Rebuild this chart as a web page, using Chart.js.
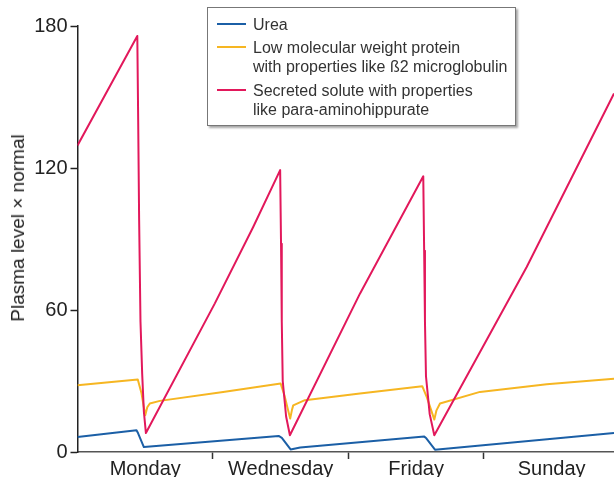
<!DOCTYPE html>
<html>
<head>
<meta charset="utf-8">
<script src="https://cdn.jsdelivr.net/npm/chart.js@4/dist/chart.umd.min.js"></script>
<style>
  body { margin: 0; background: #fff; }
  #wrap { position: relative; width: 614px; height: 477px; font-family: "Liberation Sans", Arial, sans-serif; }
  #ytitle {
    position: absolute; left: 18px; top: 228px;
    transform: translate(-50%, -50%) rotate(-90deg);
    white-space: nowrap; font-size: 19px; color: #222;
  }
  #legend {
    position: absolute; left: 207px; top: 7px; width: 307px; height: 117px;
    border: 1px solid #777; background: #fff;
    box-shadow: 2px 2px 2px rgba(0,0,0,0.35);
    font-size: 16px; color: #333; line-height: 19px;
  }
  .item { position: absolute; left: 45px; }
  .swatch { position: absolute; left: -36px; top: 8px; width: 29px; height: 2px; }
</style>
</head>
<body>
<div id="wrap">
  <canvas id="chart" width="614" height="477"></canvas>
  <div id="ytitle">Plasma level × normal</div>
  <div id="legend"></div>
</div>
<script>
// x is in days along the axis, y is plasma level × normal
const dayLabels = { 1: "Monday", 3: "Wednesday", 5: "Friday", 7: "Sunday" };

const ureaDays  = [0, 0.871, 0.895, 0.98, 2.97, 3.017, 3.146, 3.288, 5.12, 5.15, 5.278, 7.921];
const ureaLevel = [6.3, 9.2, 7.9, 2.1, 6.8, 6.0, 1.1, 1.9, 6.5, 5.8, 1.0, 8.0];

const b2mDays  = [0, 0.89, 0.945, 1.0, 1.03, 1.068, 1.216, 2.15, 3.0, 3.055, 3.14, 3.165, 3.185, 3.357, 4.17,
                  5.09, 5.16, 5.268, 5.3, 5.352, 5.942, 6.928, 7.921];
const b2mLevel = [28.2, 30.6, 24.8, 15.5, 18.9, 20.5, 21.6, 25.4, 28.9, 24.0, 14.1, 17.6, 19.7, 21.9, 24.7,
                  27.8, 23.0, 13.7, 17.6, 20.5, 25.4, 28.6, 31.0];

const pahDays  = [0, 0.883, 0.896, 0.91, 0.93, 0.955, 0.98, 1.01, 2.028, 2.594, 2.992, 3.005, 3.016, 3.03, 3.08, 3.136,
                  4.17, 5.105, 5.118, 5.13, 5.145, 5.2, 5.268, 6.632, 7.921];
const pahLevel = [129.5, 175.8, 140, 98, 55, 33, 17, 8, 62.8, 95.1, 119.1, 88, 55, 30, 15, 7.1,
                  66.9, 116.5, 85, 55, 32, 16, 7.1, 78.2, 151.5];

const seriesNames = [
  ["Urea"],
  ["Low molecular weight protein", "with properties like ß2 microglobulin"],
  ["Secreted solute with properties", "like para-aminohippurate"]
];
const seriesColors = ["#1b5fa6", "#f6b622", "#e2185b"];

const toPoints = (xs, ys) => xs.map((x, i) => ({ x, y: ys[i] }));

// legend box (html so the two-line labels wrap like the original)
const legendTops = [7, 30, 73];
const legend = document.getElementById("legend");
seriesNames.forEach((lines, i) => {
  const el = document.createElement("div");
  el.className = "item";
  el.style.top = legendTops[i] + "px";
  el.innerHTML = `<span class="swatch" style="background:${seriesColors[i]}"></span>` + lines.join("<br>");
  legend.appendChild(el);
});

Chart.defaults.font.family = '"Liberation Sans", Arial, sans-serif';
Chart.defaults.color = "#222";

const line = (data, i, order) => ({
  data,
  borderColor: seriesColors[i],
  backgroundColor: "transparent",
  borderWidth: 2,
  pointRadius: 0,
  tension: 0,
  borderJoinStyle: "round",
  order,
});

new Chart(document.getElementById("chart"), {
  type: "line",
  data: {
    datasets: [
      line(toPoints(pahDays, pahLevel), 2, 0),
      line(toPoints(b2mDays, b2mLevel), 1, 1),
      line(toPoints(ureaDays, ureaLevel), 0, 2),
    ],
  },
  options: {
    responsive: false,
    animation: false,
    devicePixelRatio: 1,
    layout: { padding: { top: 26, right: 0, left: 0, bottom: 0 } },
    plugins: { legend: { display: false }, tooltip: { enabled: false } },
    scales: {
      x: {
        type: "linear",
        min: 0,
        max: 7.921,
        afterBuildTicks: (s) => { s.ticks = [0, 1, 2, 3, 4, 5, 6, 7].map((v) => ({ value: v })); },
        afterFit: (s) => { s.height = 25; },
        ticks: {
          autoSkip: false,
          maxRotation: 0,
          padding: -2,
          font: { size: 20 },
          color: "#222",
          callback: (v) => dayLabels[v] || "",
        },
        grid: {
          drawOnChartArea: false,
          tickLength: 7,
          tickWidth: 1.5,
          tickColor: (ctx) => (ctx.tick && ctx.tick.value > 0 && ctx.tick.value % 2 === 0 ? "#333" : "transparent"),
        },
        border: { color: "#555", width: 1.5 },
      },
      y: {
        min: 0,
        max: 180,
        afterFit: (s) => { s.width = 77.5; },
        ticks: { stepSize: 60, padding: 3, font: { size: 20 }, color: "#222" },
        grid: { drawOnChartArea: false, tickLength: 7, tickWidth: 1.5, tickColor: "#222" },
        border: { color: "#222", width: 1.5 },
      },
    },
  },
});
</script>
</body>
</html>
